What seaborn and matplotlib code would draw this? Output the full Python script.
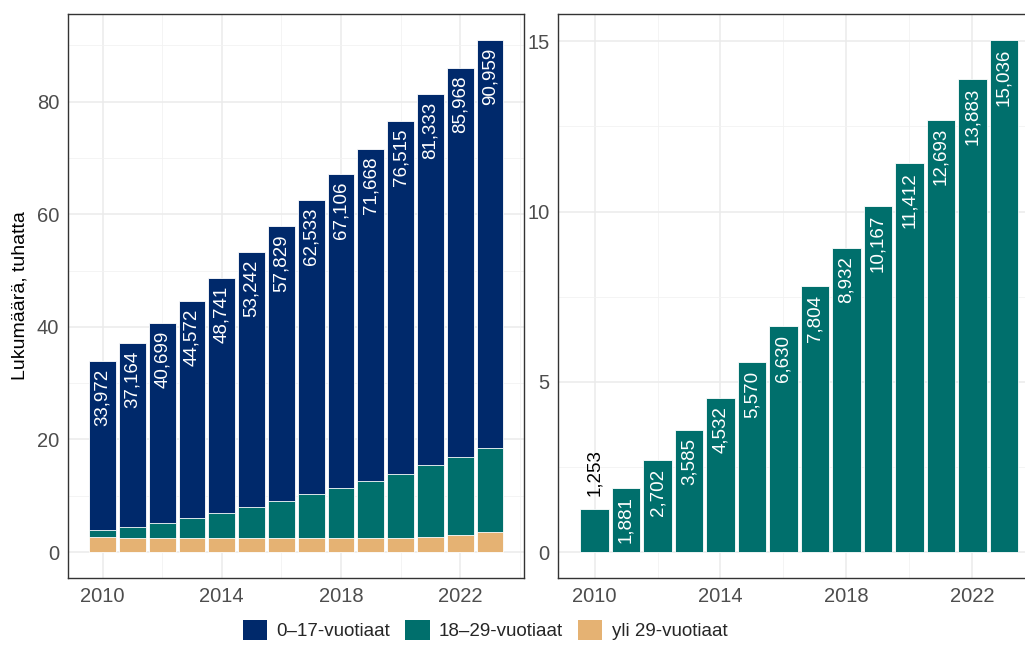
import numpy as np
import pandas as pd
import matplotlib
matplotlib.use("Agg")
import matplotlib.pyplot as plt
import seaborn as sns
from matplotlib.patches import Patch
from matplotlib.ticker import MultipleLocator

# Data (numbers of persons)
years = list(range(2010, 2024))
totals = [33972, 37164, 40699, 44572, 48741, 53242, 57829,
          62533, 67106, 71668, 76515, 81333, 85968, 90959]
age_18_29 = [1253, 1881, 2702, 3585, 4532, 5570, 6630,
             7804, 8932, 10167, 11412, 12693, 13883, 15036]
age_over_29 = [2600, 2490, 2490, 2490, 2430, 2430, 2430,
               2430, 2430, 2430, 2540, 2720, 3020, 3490]
age_0_17 = [30120, 32790, 35510, 38500, 41780, 45240, 48770,
            52300, 55740, 59070, 62560, 65920, 69070, 72430]

series_names = ["0\u201317-vuotiaat", "18\u201329-vuotiaat", "yli 29-vuotiaat"]
colors = ["#00296b", "#006f6c", "#e5b273"]

df = pd.DataFrame({"year": years, "total": totals, "a0": age_0_17,
                   "a18": age_18_29, "a29": age_over_29})
# stacked heights in thousands (drawn back to front)
df["top0"] = (df["a0"] + df["a18"] + df["a29"]) / 1000
df["top18"] = (df["a18"] + df["a29"]) / 1000
df["top29"] = df["a29"] / 1000
df["right"] = df["a18"] / 1000

sns.set_style("white")
plt.rcParams["font.family"] = ["Liberation Sans", "DejaVu Sans"]

fig = plt.figure(figsize=(10.25, 6.45), dpi=100)
ax1 = fig.add_axes([0.0666, 0.1043, 0.4449, 0.8735])
ax2 = fig.add_axes([0.5447, 0.1043, 0.4700, 0.8735])

bar_kw = dict(native_scale=True, width=0.9, errorbar=None, saturation=1,
              edgecolor="white", linewidth=0.6)

# left panel: stacked bars by overlaying cumulative heights
for col, c in zip(["top0", "top18", "top29"], colors):
    sns.barplot(data=df, x="year", y=col, color=c, ax=ax1, **bar_kw)

for yr, tot in zip(years, totals):
    ax1.annotate(f"{tot:,}", (yr, tot / 1000), xytext=(0, -5.5),
                 textcoords="offset points", rotation=90, ha="center",
                 va="top", color="white", fontsize=13.5)

# right panel: 18-29 year olds only
sns.barplot(data=df, x="year", y="right", color=colors[1], ax=ax2, **bar_kw)
for yr, v in zip(years, age_18_29):
    if v < 1500:
        ax2.annotate(f"{v:,}", (yr, v / 1000), xytext=(0, 9.5),
                     textcoords="offset points", rotation=90, ha="center",
                     va="bottom", color="black", fontsize=13.5)
    else:
        ax2.annotate(f"{v:,}", (yr, v / 1000), xytext=(0, -6),
                     textcoords="offset points", rotation=90, ha="center",
                     va="top", color="white", fontsize=13.5)

ax1.set_ylim(-4.55, 95.51)
ax2.set_ylim(-0.752, 15.79)
ax1.yaxis.set_major_locator(MultipleLocator(20))
ax1.yaxis.set_minor_locator(MultipleLocator(10))
ax2.yaxis.set_major_locator(MultipleLocator(5))
ax2.yaxis.set_minor_locator(MultipleLocator(2.5))

for ax in (ax1, ax2):
    ax.set_xlim(2008.85, 2024.15)
    ax.xaxis.set_major_locator(MultipleLocator(4, offset=2))
    ax.xaxis.set_minor_locator(MultipleLocator(2))
    ax.set_axisbelow(True)
    ax.grid(which="major", color="#ebebeb", linewidth=1.1)
    ax.grid(which="minor", color="#f2f2f2", linewidth=0.6)
    for s in ax.spines.values():
        s.set_visible(True)
        s.set_color("#333333")
        s.set_linewidth(1.0)
    ax.tick_params(which="major", length=3.5, width=1, color="#333333",
                   labelsize=14.5, labelcolor="#4d4d4d", pad=3)
    ax.tick_params(which="minor", length=0)
    ax.set_xlabel("")
    ax.set_ylabel("")

ax1.set_ylabel("Lukum\u00e4\u00e4r\u00e4, tuhatta", fontsize=14, color="black", labelpad=6)

handles = [Patch(facecolor=c, edgecolor="none") for c in colors]
fig.legend(handles, series_names, loc="center", bbox_to_anchor=(485 / 1025, 0.023),
           ncol=3, frameon=False, fontsize=13.5, handlelength=1.3, handleheight=1.3,
           handletextpad=0.5, columnspacing=0.8)

fig.savefig("out.png", dpi=100)
